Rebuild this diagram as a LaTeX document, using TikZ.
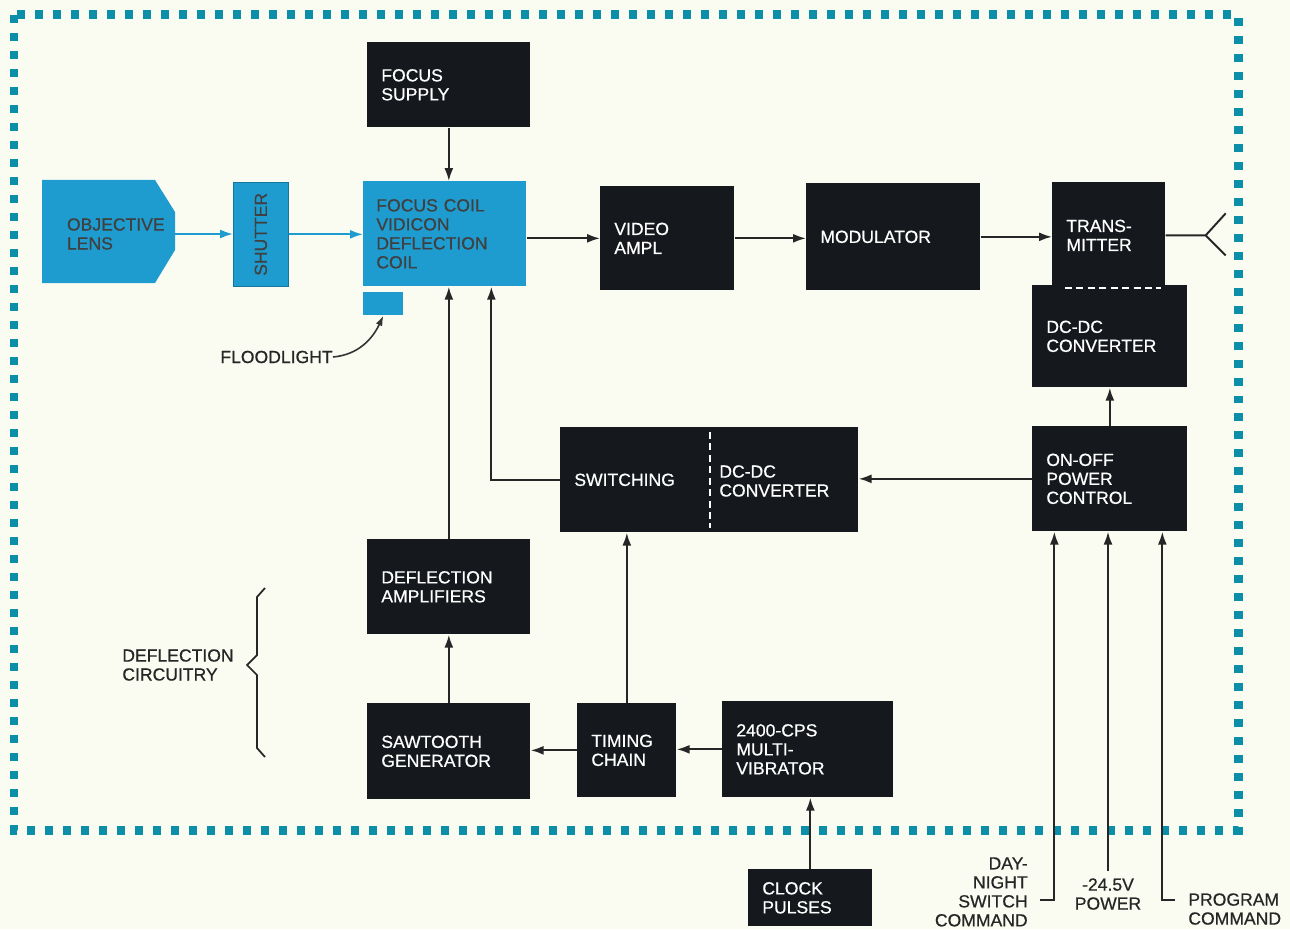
\documentclass[tikz,border=0pt]{standalone}
\usepackage{fontspec}
\setmainfont{Liberation Sans}[FakeBold=0.6]
\usepackage{xcolor}
\usetikzlibrary{arrows.meta,positioning,calc}
\definecolor{boxblack}{HTML}{15181D}
\definecolor{lensblue}{HTML}{1E9CD0}
\definecolor{rim}{HTML}{0B8FA8}
\definecolor{paper}{HTML}{FAFBF1}

\begin{document}
\begin{tikzpicture}[x=0.02cm,y=-0.02cm,every node/.style={font=\fontsize{10}{10.8}\selectfont,align=left},blk/.style={fill=boxblack,text=white,inner xsep=2.8mm,inner ysep=0pt,anchor=north west},cyanbox/.style={fill=lensblue,text=black!75,inner xsep=2.6mm,inner ysep=0pt,anchor=north west},lbl/.style={text=black!85,inner sep=0pt},arrow/.style={-{Latex[length=2.6mm,width=1.8mm]},line width=1.1pt,black!85},barrow/.style={-{Latex[length=2.6mm,width=1.8mm]},line width=1.1pt,lensblue}]
\fill[paper] (0,0) rectangle (1290,929);
\draw[rim,line width=1.8mm,dash pattern=on 1.6mm off 2mm] (14,15) rectangle (1238,830);
% optics
\fill[lensblue] (42,180) -- (155,180) -- (175,212) -- (175,250) -- (155,283) -- (42,283) -- cycle;
\node[text=black!75,inner xsep=0.5cm,inner ysep=0pt,text width=1.66cm,minimum height=2.06cm] (lens) at (108.5,234) {OBJECTIVE\\LENS};
\node[cyanbox,draw=lensblue!75!black,minimum width=1.10cm,minimum height=2.08cm,inner sep=0pt] (shut) at (233,182) {};
\node[rotate=90,text=black!75] (shuttxt) at (shut.center) {SHUTTER};
\node[cyanbox,text width=2.74cm,minimum height=2.10cm] (coil) at (363,181) {FOCUS COIL\\VIDICON\\DEFLECTION\\COIL};
\node[fill=lensblue,minimum width=0.80cm,minimum height=0.46cm,inner sep=0pt,anchor=north west] (flood) at (363,292) {};
\node[lbl,anchor=east] (fltxt) at (333,357) {FLOODLIGHT};
% black boxes
\node[blk,text width=2.70cm,minimum height=1.70cm] (fsup) at (367,42) {FOCUS\\SUPPLY};
\node[blk,text width=2.12cm,minimum height=2.08cm] (video) at (600,186) {VIDEO\\AMPL};
\node[blk,text width=2.92cm,minimum height=2.14cm] (mod) at (806,183) {MODULATOR};
\node[blk,text width=2.54cm,minimum height=2.04cm] (dcdc) at (1032,285) {DC-DC\\CONVERTER};
\node[blk,text width=1.70cm,minimum height=2.12cm] (tx) at (1052,182) {TRANS-\\MITTER};
\node[blk,text width=2.54cm,minimum height=2.10cm] (onoff) at (1032,426) {ON-OFF\\POWER\\CONTROL};
\node[blk,text width=5.40cm,minimum height=2.10cm] (sw) at (560,427) {SWITCHING};
\node[text=white,anchor=west,inner sep=0pt] (conv) at (719,481) {DC-DC\\CONVERTER};
\node[blk,text width=2.70cm,minimum height=1.90cm] (defl) at (367,539) {DEFLECTION\\AMPLIFIERS};
\node[blk,text width=2.70cm,minimum height=1.92cm] (saw) at (367,703) {SAWTOOTH\\GENERATOR};
\node[blk,text width=1.42cm,minimum height=1.88cm] (timing) at (577,703) {TIMING\\CHAIN};
\node[blk,text width=2.86cm,minimum height=1.92cm] (multi) at (722,701) {2400-CPS\\MULTI-\\VIBRATOR};
\node[blk,text width=1.92cm,minimum height=1.14cm] (clock) at (748,869) {CLOCK\\PULSES};
\draw[white,line width=1.2pt,dash pattern=on 4pt off 2.5pt] ($(tx.south west)+(13,-1)$) -- ($(tx.south east)+(-5,-1)$);
\draw[white,line width=1.2pt,dash pattern=on 4pt off 2.5pt] ($(sw.north west)+(150,5)$) -- ($(sw.south west)+(150,-5)$);
% labels
\node[lbl] (dctxt) at (178,665) {DEFLECTION\\CIRCUITRY};
\draw[line width=1pt,black!85] (265,588) -- (257,597) -- (257,655) -- (247,665) -- (257,675) -- (257,748) -- (265,757);
\node[lbl,anchor=north east,align=right] (dn) at (1028,857) {DAY-\\NIGHT\\SWITCH\\COMMAND};
\node[lbl,anchor=north,align=center] (pwr) at (1108,878) {-24.5V\\POWER};
\node[lbl,anchor=north west] (prog) at (1188,893) {PROGRAM\\COMMAND};
\coordinate (dnend) at (1040,900);
\coordinate (prend) at (1175,900);
\coordinate (ant) at ($(tx.east)+(40,0)$);
% connectors
\draw[barrow] (lens.east) -- (lens.east -| shut.west);
\draw[barrow] (shut.east) -- (shut.east -| coil.west);
\draw[-{Latex[length=2mm,width=1.4mm]},line width=0.9pt,black!80] (fltxt.east) to[out=5,in=-115] (flood.south);
\draw[arrow] (fsup.south) -- (fsup.south |- coil.north);
\draw[arrow] (coil.east |- video.west) -- (video.west);
\draw[arrow] (video.east) -- (video.east -| mod.west);
\draw[arrow] (mod.east) -- (mod.east -| tx.west);
\draw[line width=1.1pt,black!85] (tx.east) -- (ant) -- ++(20,-22) (ant) -- ++(20,20);
\draw[arrow] (onoff.north) -- (onoff.north |- dcdc.south);
\draw[arrow] (onoff.west) -- (onoff.west -| sw.east);
\draw[arrow] (sw.west) -| ([xshift=0.93cm]coil.south);
\draw[arrow] (defl.north) -- (defl.north |- coil.south);
\draw[arrow] (saw.north) -- (defl.south);
\draw[arrow] (timing.west) -- (timing.west -| saw.east);
\draw[arrow] (multi.west) -- (multi.west -| timing.east);
\draw[arrow] (timing.north) -- (timing.north |- sw.south);
\draw[arrow] (clock.north) -- (clock.north |- multi.south);
\draw[arrow] ([yshift=0.14cm]pwr.north) -- (pwr.north |- onoff.south);
\draw[arrow] (dnend) -| ([xshift=-1.11cm]onoff.south);
\draw[arrow] (prend) -| ([xshift=1.05cm]onoff.south);
\end{tikzpicture}
\end{document}
